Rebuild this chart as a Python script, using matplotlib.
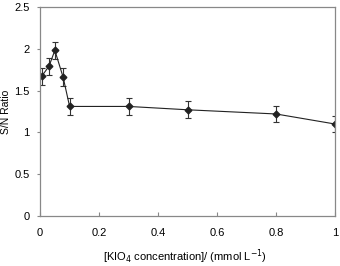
import numpy as np
import matplotlib.pyplot as plt

plt.rcParams['font.family'] = ['Liberation Sans', 'DejaVu Sans']

# KIO4 concentration (mmol/L) and S/N ratio
conc = [0.005, 0.03, 0.05, 0.078, 0.1, 0.3, 0.5, 0.8, 1.0]
sn_ratio = [1.67, 1.79, 1.98, 1.66, 1.31, 1.31, 1.27, 1.22, 1.10]
sn_err = [0.1, 0.1, 0.1, 0.11, 0.1, 0.1, 0.1, 0.1, 0.1]

fig = plt.figure(figsize=(3.4, 2.66), dpi=100)
ax = fig.add_axes([0.118, 0.188, 0.867, 0.786])

ax.errorbar(conc, sn_ratio, yerr=sn_err, fmt='D-', color='#222222', ecolor='#333333',
            markersize=3.4, linewidth=0.8, elinewidth=0.8, capsize=2.5, capthick=0.8)

ax.set_xlim(0, 1)
ax.set_ylim(0, 2.5)
ax.set_xticks([0, 0.2, 0.4, 0.6, 0.8, 1])
ax.set_xticklabels(['0', '0.2', '0.4', '0.6', '0.8', '1'])
ax.set_yticks([0, 0.5, 1, 1.5, 2, 2.5])
ax.set_yticklabels(['0', '0.5', '1', '1.5', '2', '2.5'])

for s in ax.spines.values():
    s.set_color('#888888')
    s.set_linewidth(0.9)

ax.tick_params(axis='x', direction='in', length=3, color='#888888', labelsize=8, pad=9)
ax.tick_params(axis='y', direction='out', length=2.5, color='#888888', labelsize=8, pad=5)

ax.set_ylabel('S/N Ratio', fontsize=7.5)
ax.yaxis.set_label_coords(-0.1, 0.5)
ax.set_xlabel('[KIO$_4$ concentration]/ (mmol L$^{-1}$)', fontsize=8)
ax.xaxis.set_label_coords(0.49, -0.15)

fig.savefig('out.png', dpi=100)
